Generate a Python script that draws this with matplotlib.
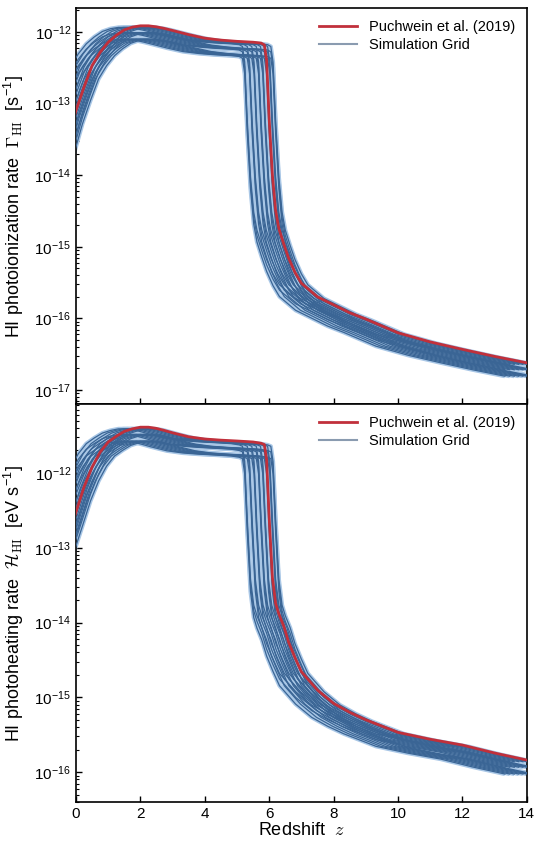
import numpy as np
import matplotlib.pyplot as plt
from matplotlib.ticker import NullFormatter

plt.rcParams['font.family'] = ['Liberation Sans', 'DejaVu Sans']
plt.rcParams['mathtext.fontset'] = 'cm'

# Puchwein et al. (2019) rates
# (first point lies just left of the axis, needed by the shifted grid curves)
z_p19 = [-0.25, 0, 0.25, 0.5, 0.75, 1.0, 1.25, 1.5, 1.75, 2.0, 2.25, 2.5, 2.75, 3.0,
         3.5, 4.0, 4.5, 5.0, 5.5, 5.75, 5.85, 5.92, 6.0, 6.1, 6.2, 6.3, 6.45, 6.6,
         6.8, 7.0, 7.5, 8, 8.5, 9, 10, 11, 12, 13, 14]
gamma_p19 = [3.2e-14, 8e-14, 1.7e-13, 3.4e-13, 5.2e-13, 7.2e-13, 9.0e-13, 1.07e-12,
             1.17e-12, 1.22e-12, 1.22e-12, 1.18e-12, 1.12e-12, 1.05e-12,
             9.2e-13, 8.2e-13, 7.7e-13, 7.4e-13, 7.2e-13, 7.0e-13, 6.6e-13, 4.0e-13,
             6.0e-14, 1.0e-14, 3.2e-15, 1.8e-15, 1.1e-15, 7.0e-16,
             4.4e-16, 3.1e-16, 2.0e-16, 1.55e-16, 1.2e-16, 9.8e-17, 6.3e-17, 4.7e-17,
             3.7e-17, 2.95e-17, 2.4e-17]
heat_p19 = [1.4e-13, 3e-13, 6.5e-13, 1.2e-12, 1.9e-12, 2.6e-12, 3.1e-12, 3.6e-12,
            3.9e-12, 4.1e-12, 4.1e-12, 3.95e-12, 3.7e-12, 3.45e-12,
            3.05e-12, 2.85e-12, 2.75e-12, 2.68e-12, 2.6e-12, 2.5e-12, 2.4e-12, 1.5e-12,
            2.5e-13, 4.0e-14, 1.8e-14, 1.3e-14, 9.0e-15, 5.5e-15,
            3.4e-15, 2.2e-15, 1.25e-15, 8.3e-16, 6.3e-16, 5.0e-16, 3.4e-16, 2.75e-16,
            2.3e-16, 1.8e-16, 1.45e-16]

# simulation grid: redshift shifts and amplitude factors applied to P19
grid_shift = [-0.68, -0.53, -0.39, -0.25, -0.12, 0.0, 0.1, 0.2]
grid_scale = [0.65, 0.8, 0.95]

x_ticks = [0, 2, 4, 6, 8, 10, 12, 14]
gamma_ticks = [1e-17, 1e-16, 1e-15, 1e-14, 1e-13, 1e-12]
heat_ticks = [1e-16, 1e-15, 1e-14, 1e-13, 1e-12]

red = '#c1303b'
light = '#a9c7e6'
dark = '#3a6595'

fig = plt.figure(figsize=(5.37, 8.42), dpi=100)
ax1 = fig.add_axes([0.1415, 0.5202, 0.8395, 0.4703])
ax2 = fig.add_axes([0.1415, 0.0475, 0.8395, 0.4727])

panels = [
    (ax1, gamma_p19, gamma_ticks, (10**-17.195, 10**-11.665),
     r'HI photoionization rate  $\Gamma_{\rm HI}$  [s$^{\mathregular{-1}}$]'),
    (ax2, heat_p19, heat_ticks, (10**-16.40, 10**-11.077),
     r'HI photoheating rate  $\mathcal{H}_{\rm HI}$  [eV s$^{\mathregular{-1}}$]'),
]

for ax, vals, yticks, ylim, ylabel in panels:
    zz = np.array(z_p19)
    vv = np.array(vals)
    for s in grid_shift:
        for b in grid_scale:
            ax.plot(zz + s, b * vv, color=light, lw=3.0, solid_capstyle='butt',
                    solid_joinstyle='round', zorder=2)
            ax.plot(zz + s, b * vv, color=dark, lw=0.9, solid_joinstyle='round', zorder=3)
    ax.plot(zz, vv, color=red, lw=2.0, solid_joinstyle='round', zorder=4,
            label='Puchwein et al. (2019)')
    ax.plot([], [], color='#8a9bb0', lw=1.5, label='Simulation Grid')

    ax.set_yscale('log')
    ax.set_xlim(0, 14)
    ax.set_yticks(yticks)
    ax.set_ylim(*ylim)
    ax.set_xticks(x_ticks)
    ax.yaxis.set_minor_formatter(NullFormatter())
    ax.tick_params(axis='both', which='both', direction='in', top=False, right=False,
                   labelsize=11)
    ax.tick_params(which='major', length=4, width=1)
    ax.tick_params(which='minor', length=2.5, width=0.8)
    ax.tick_params(axis='x', which='minor', bottom=False)
    for sp in ax.spines.values():
        sp.set_linewidth(1.2)
    ax.set_ylabel(ylabel, fontsize=13, labelpad=6)
    ax.legend(loc='upper right', frameon=False, fontsize=10.5, handlelength=2.6,
              borderaxespad=0.4, labelspacing=0.3)

ax1.tick_params(axis='x', labelbottom=False)
ax2.set_xlabel(r'Redshift  $z$', fontsize=13, labelpad=1)

fig.savefig('out.png', dpi=100)
